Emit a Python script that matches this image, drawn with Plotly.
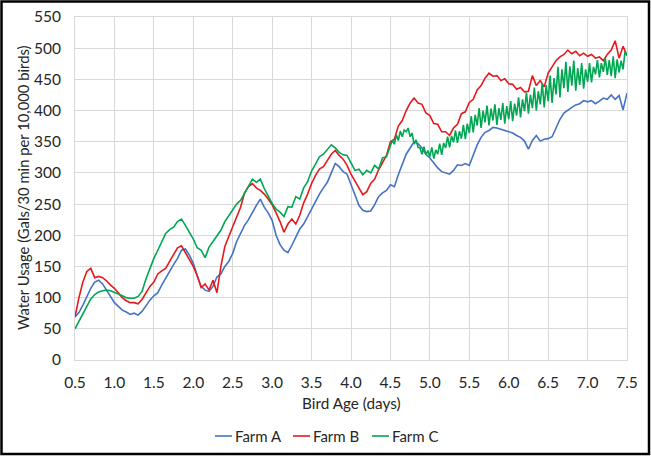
import plotly.graph_objects as go

# Sampling grids (days)
DAYS_AB = [round(0.5 + 0.05 * i, 3) for i in range(141)]
DAYS_C = DAYS_AB[:81] + [round(4.525 + 0.025 * i, 3) for i in range(120)]

FARM_A = [
    69, 76, 88, 102, 115, 125, 128, 122, 112, 101,
    92, 86, 80, 77, 73, 75, 72, 78, 88, 96,
    103, 108, 120, 130, 142, 153, 163, 176, 178, 168,
    155, 135, 118, 112, 110, 118, 133, 138, 150, 158,
    171, 190, 203, 216, 225, 237, 248, 258, 245, 236,
    224, 200, 185, 176, 172, 184, 196, 210, 218, 230,
    243, 254, 266, 276, 285, 300, 315, 310, 302, 298,
    283, 265, 248, 240, 238, 239, 249, 262, 268, 272,
    281, 278, 297, 315, 330, 340, 350, 347, 340, 330,
    324, 316, 308, 302, 300, 298, 304, 313, 312, 315,
    312, 329, 345, 357, 365, 368, 373, 372, 370, 369,
    367, 364, 360, 357, 351, 338, 352, 360, 351, 354,
    355, 358, 372, 386, 396, 401, 405, 409, 411, 416,
    414, 416, 411, 415, 420, 418, 425, 418, 424, 401, 428,
]

FARM_B = [
    69, 100, 125, 142, 147, 132, 134, 132, 127, 120,
    115, 108, 100, 95, 92, 92, 90, 97, 108, 118,
    125, 138, 143, 147, 158, 168, 180, 183, 172, 160,
    150, 135, 116, 122, 112, 128, 108, 150, 182, 198,
    214, 232, 245, 268, 278, 283, 276, 272, 266, 258,
    249, 236, 222, 205, 218, 226, 218, 232, 252, 266,
    283, 296, 306, 310, 320, 330, 336, 328, 322, 312,
    298, 286, 276, 265, 270, 283, 290, 305, 316, 328,
    350, 354, 375, 384, 400, 412, 420, 412, 410, 396,
    392, 379, 378, 366, 366, 360, 372, 378, 395, 398,
    413, 418, 433, 440, 452, 460, 455, 456, 448, 451,
    443, 442, 434, 437, 430, 431, 456, 440, 448, 438,
    460, 470, 480, 486, 490, 497, 491, 495, 488, 492,
    487, 490, 484, 486, 480, 490, 497, 512, 484, 503, 488,
]

FARM_C = [
    50, 62, 75, 88, 98, 105, 109, 111, 112, 111,
    109, 106, 103, 100, 99, 99, 102, 110, 130, 148,
    163, 176, 190, 203, 209, 213, 222, 226, 216, 205,
    194, 180, 176, 164, 181, 190, 200, 208, 222, 232,
    240, 250, 256, 268, 280, 290, 285, 290, 275, 262,
    251, 242, 237, 230, 246, 245, 262, 258, 276, 286,
    303, 314, 326, 330, 338, 345, 340, 333, 329, 328,
    316, 304, 306, 297, 304, 300, 312, 306, 324, 326,
    344,
    352, 346, 361, 352, 367, 358, 369, 366, 372, 358,
    364, 346, 353, 341, 340, 330, 342, 329, 336, 326,
    341, 323, 337, 330, 347, 329, 348, 340, 358, 341,
    359, 349, 368, 348, 367, 355, 377, 354, 379, 364,
    391, 365, 393, 376, 404, 372, 400, 381, 408, 376,
    403, 384, 410, 377, 404, 385, 412, 379, 407, 386,
    415, 383, 411, 392, 421, 389, 418, 399, 429, 395,
    425, 404, 437, 400, 431, 410, 444, 405, 441, 415,
    456, 412, 452, 426, 470, 421, 466, 436, 478, 430,
    471, 440, 480, 432, 468, 441, 476, 435, 466, 446,
    476, 445, 470, 458, 481, 453, 476, 462, 484, 457,
    481, 455, 487, 452, 482, 461, 480, 466, 495, 488,
]

SERIES = [
    ("Farm A", DAYS_AB, FARM_A, "#4472C4"),
    ("Farm B", DAYS_AB, FARM_B, "#E41A1C"),
    ("Farm C", DAYS_C, FARM_C, "#00A651"),
]

X_TICKS = [0.5, 1.0, 1.5, 2.0, 2.5, 3.0, 3.5, 4.0, 4.5, 5.0, 5.5, 6.0, 6.5, 7.0, 7.5]
Y_TICKS = list(range(0, 551, 50))

FONT = "Lato, 'Open Sans', sans-serif"
TXT = "#262626"
GRID = "#D9D9D9"

W, H = 651, 457
L, R, T, B = 75, 24, 17, 97
pw, ph = W - L - R, H - T - B


def px2x(px):
    return (px - L) / pw


def px2y(py):
    return (H - B - py) / ph


fig = go.Figure()
for name, xs, ys, col in SERIES:
    fig.add_trace(go.Scatter(x=xs, y=ys, mode="lines", name=name,
                             line=dict(color=col, width=1.6), showlegend=False))

# custom legend (short swatches like the original)
LEG_X = [215, 293, 372]
LEG_Y = 436
shapes = []
annotations = []
for (name, _, _, col), lx in zip(SERIES, LEG_X):
    shapes.append(dict(type="line", xref="paper", yref="paper",
                       x0=px2x(lx), x1=px2x(lx + 17), y0=px2y(LEG_Y), y1=px2y(LEG_Y),
                       line=dict(color=col, width=1.6)))
    annotations.append(dict(text=name, xref="paper", yref="paper",
                            x=px2x(lx + 18), y=px2y(LEG_Y), xanchor="left", yanchor="middle",
                            showarrow=False, font=dict(family=FONT, size=15, color=TXT)))

annotations += [
    dict(text="Bird Age (days)", xref="paper", yref="paper",
         x=px2x(351), y=px2y(403), xanchor="center", yanchor="middle",
         showarrow=False, font=dict(family=FONT, size=15.3, color=TXT)),
    dict(text="Water Usage (Gals/30 min per 10,000 birds)", xref="paper", yref="paper",
         x=px2x(23), y=px2y(188), xanchor="center", yanchor="middle",
         textangle=-90, showarrow=False,
         font=dict(family=FONT, size=14.8, color=TXT)),
]

shapes.append(dict(type="rect", xref="paper", yref="paper",
                   x0=px2x(1.5), x1=px2x(649), y0=px2y(454), y1=px2y(1.5),
                   line=dict(color="black", width=2.5), fillcolor="rgba(0,0,0,0)",
                   layer="above"))

fig.update_layout(
    width=W, height=H,
    margin=dict(l=L, r=R, t=T, b=B, autoexpand=False),
    paper_bgcolor="white", plot_bgcolor="white",
    font=dict(family=FONT, size=15, color=TXT),
    showlegend=False,
    xaxis=dict(range=[0.5, 7.5], tickvals=X_TICKS, tickformat=".1f",
               showgrid=True, gridcolor=GRID, gridwidth=1,
               showline=True, linecolor=GRID, linewidth=1, mirror=True,
               zeroline=False, ticks="outside", ticklen=8,
               tickcolor="rgba(0,0,0,0)",
               tickfont=dict(family=FONT, size=15.5, color=TXT)),
    yaxis=dict(range=[0, 550], tickvals=Y_TICKS,
               showgrid=True, gridcolor=GRID, gridwidth=1,
               showline=True, linecolor=GRID, linewidth=1, mirror=True,
               zeroline=False, ticks="outside", ticklen=10,
               tickcolor="rgba(0,0,0,0)",
               tickfont=dict(family=FONT, size=15.5, color=TXT)),
    annotations=annotations,
    shapes=shapes,
)

fig.write_html("out.html", config={"displayModeBar": False},
               post_script="document.body.style.margin='0';document.body.style.overflow='hidden';")
